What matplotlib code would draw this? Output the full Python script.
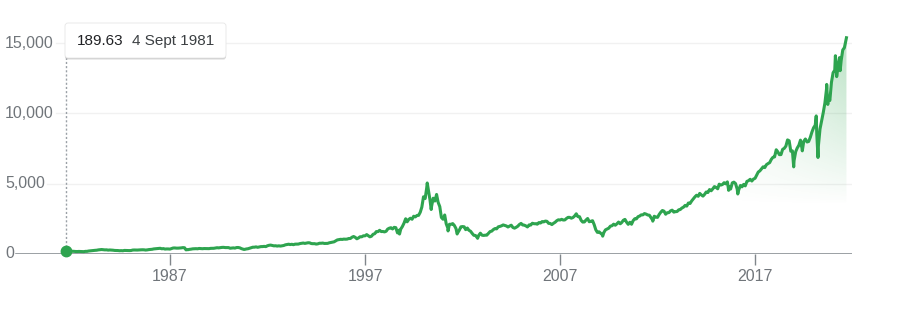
import numpy as np
import pandas as pd
import matplotlib
import matplotlib.pyplot as plt
import matplotlib.dates as mdates
import matplotlib.transforms as mtransforms
from matplotlib.patches import FancyBboxPatch

plt.switch_backend("agg")
plt.rcParams["font.family"] = ["Liberation Sans", "DejaVu Sans"]

W, H, DPI = 902, 312, 100
GREEN = "#2ea44f"
LABEL_GRAY = "#70757a"

# first point (the one shown in the tooltip)
start_date = "1981-09-04"
start_value = 189.63

# month-end closes, Sep 1981 .. Aug 2021
monthly_close = [
    180, 195, 201, 196,                                                     # 1981
    188, 178, 175, 183, 175, 171, 167, 188, 188, 213, 226, 232,             # 1982
    248, 261, 270, 293, 308, 318, 303, 292, 296, 275, 286, 279,             # 1983
    269, 253, 250, 245, 232, 239, 230, 254, 249, 247, 242, 247,             # 1984
    279, 285, 280, 280, 290, 296, 301, 298, 280, 292, 313, 325,             # 1985
    335, 360, 375, 383, 394, 405, 371, 383, 350, 361, 359, 349,             # 1986
    392, 425, 430, 417, 416, 424, 435, 454, 444, 323, 305, 330,             # 1987
    345, 367, 375, 379, 371, 394, 387, 376, 388, 383, 372, 381,             # 1988
    401, 400, 406, 428, 446, 435, 454, 469, 473, 456, 456, 455,             # 1989
    410, 425, 435, 420, 458, 462, 438, 381, 344, 329, 359, 374,             # 1990
    414, 454, 482, 484, 506, 476, 502, 526, 527, 542, 524, 586,             # 1991
    620, 633, 603, 579, 586, 563, 581, 563, 583, 605, 652, 677,             # 1992
    696, 671, 690, 662, 700, 704, 705, 742, 763, 779, 754, 777,             # 1993
    800, 793, 743, 733, 735, 706, 722, 765, 764, 777, 750, 752,             # 1994
    755, 794, 817, 843, 865, 933, 1001, 1020, 1044, 1036, 1059, 1052,       # 1995
    1060, 1100, 1101, 1191, 1243, 1185, 1081, 1141, 1227, 1222, 1293, 1291, # 1996
    1380, 1309, 1222, 1261, 1400, 1442, 1594, 1587, 1686, 1594, 1601, 1570, # 1997
    1619, 1771, 1835, 1868, 1779, 1895, 1873, 1499, 1694, 1771, 1950, 2193, # 1998
    2506, 2288, 2461, 2543, 2471, 2686, 2638, 2739, 2746, 2966, 3336, 4069, # 1999
    3940, 4697, 4573, 3861, 3401, 3966, 3767, 4206, 3673, 3370, 2598, 2471, # 2000
    2773, 2152, 1840, 2116, 2110, 2161, 2027, 1805, 1499, 1690, 1931, 1950, # 2001
    1934, 1731, 1845, 1688, 1616, 1463, 1328, 1315, 1172, 1330, 1479, 1335, # 2002
    1321, 1337, 1341, 1464, 1596, 1623, 1735, 1810, 1787, 1932, 1960, 2003, # 2003
    2066, 2030, 1994, 1920, 1987, 2048, 1887, 1838, 1897, 1975, 2097, 2175, # 2004
    2062, 2052, 1999, 1922, 2068, 2057, 2185, 2152, 2152, 2120, 2233, 2205, # 2005
    2306, 2281, 2340, 2323, 2179, 2172, 2091, 2184, 2258, 2367, 2432, 2415, # 2006
    2464, 2416, 2422, 2525, 2605, 2603, 2546, 2596, 2702, 2859, 2661, 2652, # 2007
    2390, 2271, 2279, 2413, 2523, 2293, 2326, 2368, 2092, 1721, 1536, 1577, # 2008
    1476, 1378, 1529, 1717, 1774, 1835, 1979, 2009, 2122, 2045, 2145, 2269, # 2009
    2147, 2238, 2398, 2461, 2257, 2109, 2255, 2114, 2369, 2507, 2498, 2653, # 2010
    2700, 2782, 2781, 2874, 2835, 2774, 2756, 2580, 2415, 2684, 2620, 2605, # 2011
    2814, 2967, 3092, 3046, 2827, 2935, 2940, 3067, 3116, 2977, 3010, 3020, # 2012
    3142, 3160, 3268, 3329, 3456, 3403, 3626, 3590, 3771, 3920, 4060, 4177, # 2013
    4104, 4308, 4199, 4115, 4243, 4408, 4370, 4580, 4493, 4631, 4792, 4736, # 2014
    4635, 4964, 4901, 4941, 5070, 4987, 5128, 4777, 4620, 5054, 5109, 5007, # 2015
    4614, 4558, 4870, 4775, 4948, 4843, 5162, 5213, 5312, 5189, 5324, 5383, # 2016
    5615, 5825, 5912, 6048, 6199, 6140, 6348, 6429, 6496, 6728, 6874, 6903, # 2017
    7411, 7273, 7063, 7066, 7442, 7510, 7672, 8110, 8046, 7306, 7331, 6635, # 2018
    7282, 7533, 7729, 8095, 7453, 8006, 8175, 7963, 7999, 8292, 8665, 8973, # 2019
    9151, 8567, 7700, 8890, 9490, 10059, 10745, 11775, 11168, 10912, 12199, 12888,  # 2020
    13071, 13192, 13247, 13962, 13749, 14504, 14673, 15259,                 # 2021
]

# intra-month highs and lows
swing_dates = [
    "1987-08-26", "1987-10-28", "1990-10-16", "1998-10-08", "2000-03-10",
    "2000-05-23", "2000-09-01", "2001-04-04", "2001-09-21", "2002-10-09",
    "2009-03-09", "2011-10-03", "2015-08-24", "2016-02-11", "2018-08-29",
    "2018-12-24", "2019-06-03", "2020-02-19", "2020-03-23", "2020-09-02",
    "2020-09-23", "2021-02-12", "2021-03-08", "2021-05-12",
]
swing_values = [
    455, 292, 325, 1419, 5048,
    3164, 4234, 1639, 1423, 1114,
    1269, 2335, 4526, 4266, 8109,
    6193, 7333, 9817, 6861, 12056,
    10633, 14095, 12609, 13031,
]

end_date = "2021-09-07"
end_value = 15374

y_ticks = [0, 5000, 10000, 15000]
x_tick_years = [1987, 1997, 2007, 2017]

# ---- assemble the series
month_ends = pd.date_range("1981-09-01", periods=len(monthly_close), freq="MS") + pd.offsets.MonthEnd(0)
series = pd.concat([
    pd.Series([start_value], index=pd.to_datetime([start_date])),
    pd.Series(monthly_close, index=month_ends),
    pd.Series(swing_values, index=pd.to_datetime(swing_dates)),
    pd.Series([end_value], index=pd.to_datetime([end_date])),
]).sort_index()
x = mdates.date2num(series.index.to_pydatetime())
y = series.values.astype(float)

fig = plt.figure(figsize=(W / DPI, H / DPI), dpi=DPI)
ax = fig.add_axes([14 / W, 58 / H, 838 / W, 244 / H])

y_top = 15000 * (254 - 10) / (254 - 43)
ax.set_ylim(0, y_top)
ax.set_xlim(mdates.datestr2num("1979-01-01"), mdates.datestr2num("2021-12-20"))
for s in ax.spines.values():
    s.set_visible(False)
ax.set_yticks([])

# gradient area under the recent part of the line
gx = np.linspace(x[0], x[-1], 400)
gy = np.linspace(0, y_top, 300)
GX, GY = np.meshgrid(gx, gy)
x_a = mdates.datestr2num("2012-06-01")
tx = np.clip((GX - x_a) / (x[-1] - x_a), 0, 1)
ty = np.clip((GY - 3500) / (15500 - 3500), 0, 1)
rgba = np.zeros(GX.shape + (4,))
rgba[..., :3] = matplotlib.colors.to_rgb("#34a853")
rgba[..., 3] = 0.34 * tx ** 1.3 * ty ** 0.9
area = ax.fill_between(x, y, 0, facecolor="none", edgecolor="none")
im = ax.imshow(rgba, extent=[gx[0], gx[-1], 0, y_top], origin="lower",
               aspect="auto", interpolation="bilinear", zorder=1)
im.set_clip_path(area.get_paths()[0], transform=ax.transData)

ax.plot(x, y, color=GREEN, lw=2.2, solid_joinstyle="round", zorder=3)

# y labels, left aligned; grid lines start just after each label
lab_tf = mtransforms.blended_transform_factory(fig.transFigure, ax.transData)
labels = []
for v in y_ticks:
    labels.append(ax.text(5 / W, v, f"{v:,}", transform=lab_tf, ha="left", va="center",
                          fontsize=11.5, color=LABEL_GRAY, clip_on=False))
fig.canvas.draw()
ax_bb = ax.get_window_extent()
for v, t in zip(y_ticks, labels):
    x_start = (t.get_window_extent().x1 + 2 - ax_bb.x0) / ax_bb.width
    if v == 0:
        ax.axhline(v, xmin=x_start, color="#80868b", lw=1.1, zorder=2)
    else:
        ax.axhline(v, xmin=x_start, color="#f1f1f1", lw=1, zorder=0)

ax.set_xticks([mdates.datestr2num(f"{yr}-01-01") for yr in x_tick_years])
ax.set_xticklabels([str(yr) for yr in x_tick_years])
ax.tick_params(axis="x", length=8, width=1, color="#80868b", labelcolor=LABEL_GRAY,
               labelsize=11.5, pad=3)

# hover marker, dotted guide and tooltip
box_l, box_b, box_w, box_h = 65, H - 58, 161, 35
guide_top = (box_b - ax_bb.y0) / ax_bb.height
ax.axvline(x[0], ymin=start_value / y_top, ymax=guide_top, color="#9aa0a6",
           lw=1, ls=(0, (1.5, 1.5)), zorder=2)
ax.plot([x[0]], [start_value], "o", color=GREEN, ms=7.5, zorder=4, clip_on=False)

px = mtransforms.IdentityTransform()
for off, a in [(2.0, 0.08), (1.0, 0.14)]:
    fig.patches.append(FancyBboxPatch((box_l, box_b - off), box_w, box_h,
                                      boxstyle="round,pad=0,rounding_size=3",
                                      transform=px, facecolor="black", edgecolor="none",
                                      alpha=a, zorder=5))
fig.patches.append(FancyBboxPatch((box_l, box_b), box_w, box_h,
                                  boxstyle="round,pad=0,rounding_size=3",
                                  transform=px, facecolor="white", edgecolor="#e6e6e6",
                                  lw=0.6, zorder=6))
fig.text(77, H - 41, f"{start_value:.2f}", transform=px, ha="left", va="center",
         fontsize=11, color="#202124", zorder=7)
fig.text(132, H - 41, "4 Sept 1981", transform=px, ha="left", va="center",
         fontsize=11, color="#3c4043", zorder=7)

fig.savefig("out.png", dpi=DPI)
plt.close(fig)
